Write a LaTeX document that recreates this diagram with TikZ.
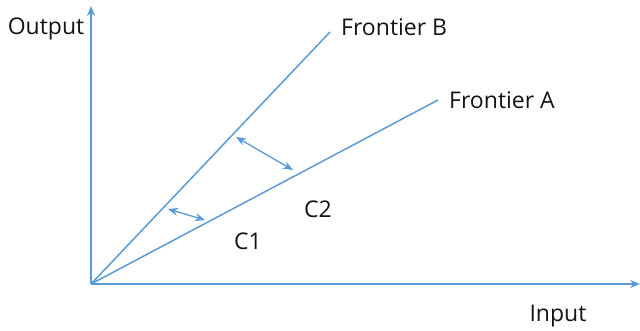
\documentclass[tikz,border=0pt]{standalone}
\usepackage{fontspec}
\setmainfont{Open Sans}
\usetikzlibrary{arrows.meta}
\definecolor{lineblue}{RGB}{91,155,213}
\definecolor{textgray}{RGB}{20,20,20}
\begin{document}
\begin{tikzpicture}[x=1pt, y=-1pt, >={Stealth[length=10pt,width=8pt]},
    lbl/.style={text=textgray, font=\fontsize{23}{26}\selectfont, inner sep=0pt}]
    \useasboundingbox (0,0) rectangle (640,330);

    % Trục tọa độ
    \coordinate (O) at (91,284);
    \draw[lineblue, line width=1.5pt, ->] (O) -- (91,6) coordinate (ytop);
    \draw[lineblue, line width=1.5pt, ->] (O) -- (640,284) coordinate (xend);
    \node[lbl] (out) at (46,29) {Output};
    \node[lbl] (inp) at (558,316) {Input};

    % Hai đường biên
    \draw[lineblue, line width=1.5pt] (O) -- (330,32) coordinate (fB);
    \draw[lineblue, line width=1.5pt] (O) -- (438,100) coordinate (fA);
    \node[lbl, right] (labB) at (341,27) {Frontier B};
    \node[lbl, right] (labA) at (449,100) {Frontier A};

    % Mũi tên khoảng cách
    \draw[lineblue, line width=1.3pt, <->] (236,137) -- (293,170);
    \draw[lineblue, line width=1.3pt, <->] (168,209) -- (205,220);
    \node[lbl] (c2) at (318,209) {C2};
    \node[lbl] (c1) at (248,241) {C1};
\end{tikzpicture}
\end{document}
